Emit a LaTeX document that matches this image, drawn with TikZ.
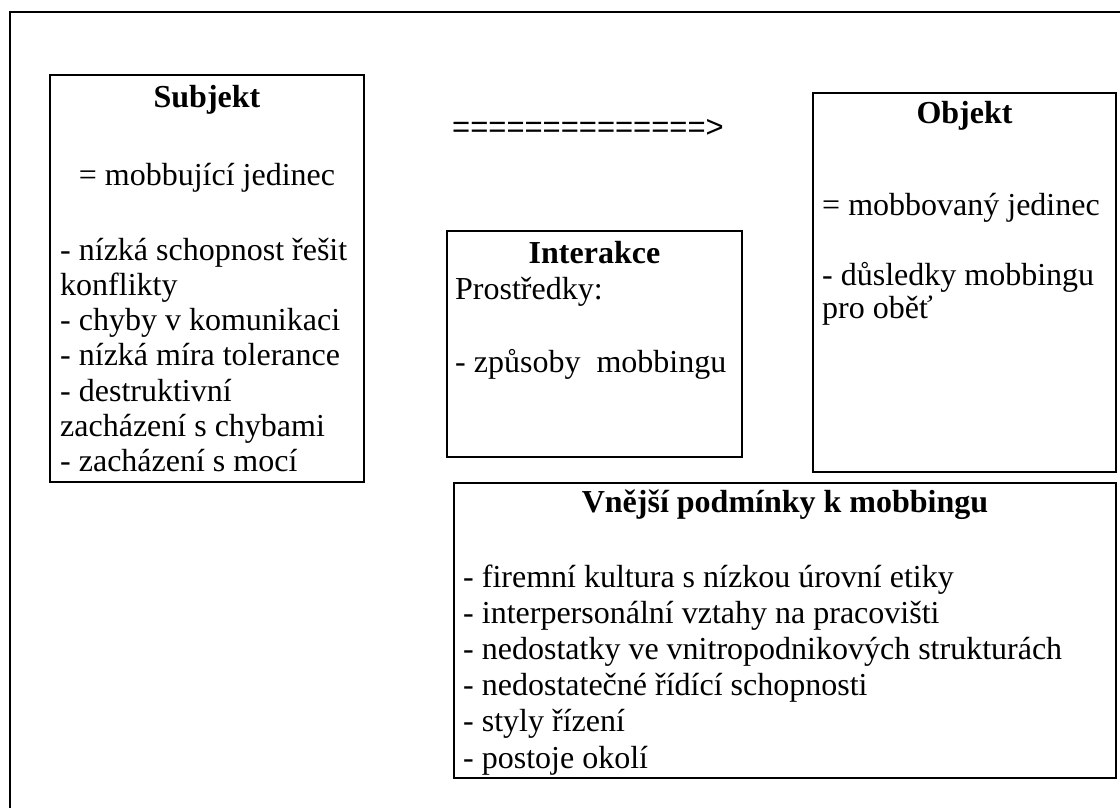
\documentclass[tikz,border=0pt]{standalone}
\usepackage{fontspec}
\setmainfont{Liberation Serif}
\newfontfamily\arialfont{Liberation Sans}
\usetikzlibrary{positioning}

\tikzset{
  box/.style={draw,line width=2pt,inner sep=0pt},
  ttl/.style={font=\fontsize{32}{36}\selectfont\bfseries,inner sep=0pt},
  txt/.style={font=\fontsize{32}{36}\selectfont,inner sep=0pt},
  arrtxt/.style={font=\arialfont\fontsize{31}{34}\selectfont,inner sep=0pt},
}

\begin{document}
\begin{tikzpicture}[x=1pt,y=-1pt]
\useasboundingbox (0,0) rectangle (1120,807);
% outer frame
\draw[line width=2pt] (10,830) |- (1140,12);
% boxes
\node[box,minimum width=314pt,minimum height=407pt] (subj) at (207,278.5) {};
\node[box,minimum width=303pt,minimum height=379pt] (obj) at (964.5,282.5) {};
\node[box,minimum width=295pt,minimum height=226pt] (inter) at (594.5,344) {};
\node[box,minimum width=662pt,minimum height=295pt] (podm) at (785,630.5) {};
% subjekt
\node[ttl,anchor=base] (subjttl) at (207,107) {Subjekt};
\node[txt,anchor=base] (subjdef) at (207,185) {= mobbující jedinec};
\foreach \t [count=\i] in {- nízká schopnost řešit,konflikty,- chyby v komunikaci,
    - nízká míra tolerance,- destruktivní,zacházení s chybami,- zacházení s mocí}
  \node[txt,anchor=base west] (subj\i) at (60,{260+35.3*(\i-1)}) {\t};
% arrow
\node[arrtxt,anchor=west] (arr) at (452,128) {==============>};
% objekt
\node[ttl,anchor=base] (objttl) at (964.5,123) {Objekt};
\node[txt,anchor=base west] (objdef) at (822,215) {= mobbovaný jedinec};
\node[txt,anchor=base west] (obj1) at (822,285) {- důsledky mobbingu};
\node[txt,anchor=base west] (obj2) at (822,318) {pro oběť};
% interakce
\node[ttl,anchor=base] (interttl) at (594.5,263) {Interakce};
\node[txt,anchor=base west] (inter1) at (455,299) {Prostředky:};
\node[txt,anchor=base west] (inter2) at (455,372) {- způsoby\ \ mobbingu};
% vnejsi podminky
\node[ttl,anchor=base] (podmttl) at (785,512) {Vnější podmínky k mobbingu};
\foreach \t [count=\i] in {- firemní kultura s nízkou úrovní etiky,- interpersonální vztahy na pracovišti,
    - nedostatky ve vnitropodnikových strukturách,- nedostatečné řídící schopnosti,
    - styly řízení,- postoje okolí}
  \node[txt,anchor=base west] (podm\i) at (463,{587+36.2*(\i-1)}) {\t};
\end{tikzpicture}
\end{document}
